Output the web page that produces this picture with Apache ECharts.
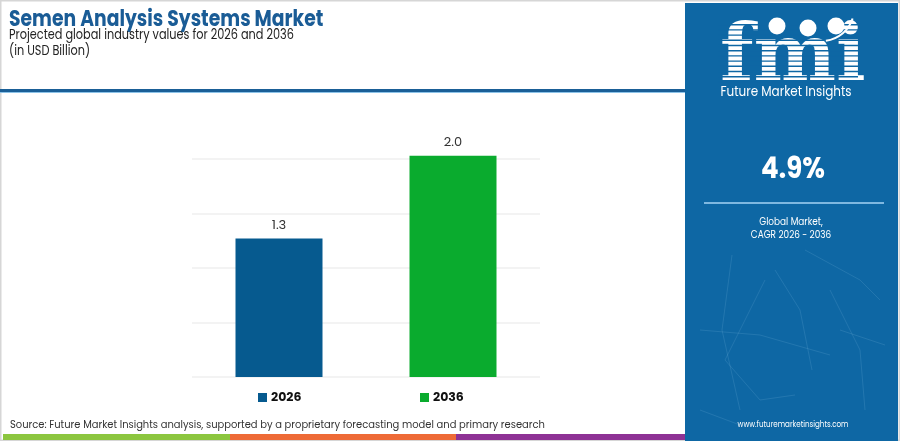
<!DOCTYPE html>
<html><head><meta charset="utf-8">
<script src="https://cdn.jsdelivr.net/npm/echarts@6/dist/echarts.min.js"></script>
<style>html,body{margin:0;padding:0;background:#fff}#c{width:900px;height:441px}</style>
</head><body><div id="c"></div>
<script>
const categories = ['2026', '2036'];
const values = [1.27, 2.03];
const valueLabels = ['1.3', '2.0'];
const barColors = ['#065a8f', '#0aab2e'];
const yTicks = [0, 0.5, 1.0, 1.5, 2.0];
const cagrText = '4.9%';

const FONT = "Poppins, 'Open Sans', Lato, sans-serif";
const panel = '#0e67a4';

const chart = echarts.init(document.getElementById('c'), null, {renderer: 'canvas'});

const series = categories.map((c, i) => ({
  name: c,
  type: 'bar',
  stack: 'all',
  barWidth: 87,
  clip: false,
  itemStyle: {color: barColors[i]},
  label: {
    show: true, position: 'top', distance: 6,
    color: '#333', fontSize: 13, fontFamily: FONT,
    formatter: () => valueLabels[i]
  },
  data: categories.map((_, j) => (j === i ? values[i] : null))
}));

// decorative network lines in the side panel
const net = [
  [[732,255],[722,330],[740,410]],[[775,270],[800,310],[812,370]],[[805,250],[860,280],[880,300]],
  [[700,330],[760,335],[830,355]],[[725,360],[760,400],[795,395]],[[830,290],[860,350],[865,410]],
  [[765,280],[725,360]],[[840,330],[885,345]],[[700,410],[740,425]]
];
const netGraphics = net.map(p => ({
  type: 'polyline', shape: {points: p}, silent: true,
  style: {stroke: 'rgba(160,210,240,0.14)', lineWidth: 1, fill: null}
}));

// fmi logo stripes
const stripes = [];
for (let y = 24; y < 86; y += 5.2) {
  stripes.push({type: 'rect', shape: {x: 718, y: y, width: 140, height: 1.4}, style: {fill: panel}});
}

function txt(x, y, text, font, fill, sx, align) {
  return {type: 'text', x: x, y: y, scaleX: sx, originX: 0, originY: 0,
    style: {text: text, fill: fill, font: font, textAlign: align || 'left', textVerticalAlign: 'middle'}};
}

chart.setOption({
  animation: false,
  grid: {left: 192, right: 360, top: 159, bottom: 64},
  xAxis: {
    type: 'category', data: categories,
    axisLine: {show: false}, axisTick: {show: false}, axisLabel: {show: false}
  },
  yAxis: {
    type: 'value', min: yTicks[0], max: yTicks[yTicks.length - 1], interval: yTicks[1] - yTicks[0],
    axisLabel: {show: false}, axisLine: {show: false}, axisTick: {show: false},
    splitLine: {lineStyle: {color: '#efefef', width: 1.5}}
  },
  legend: [
    {data: ['2026'], left: 258, top: 391, padding: 0, itemWidth: 9, itemHeight: 9, icon: 'rect', itemGap: 4,
     textStyle: {fontFamily: FONT, fontWeight: 'bold', fontSize: 12.5, color: '#111', padding: [0,0,0,-1]}},
    {data: ['2036'], left: 420, top: 391, padding: 0, itemWidth: 9, itemHeight: 9, icon: 'rect', itemGap: 4,
     textStyle: {fontFamily: FONT, fontWeight: 'bold', fontSize: 12.5, color: '#111', padding: [0,0,0,-1]}}
  ],
  series: series,
  graphic: [
    {type: 'rect', shape: {x: 0.5, y: 0.5, width: 899, height: 440}, style: {fill: null, stroke: '#d6d6d6', lineWidth: 2}, silent: true},
    {type: 'rect', shape: {x: 0, y: 89, width: 685, height: 3}, style: {fill: '#1a5f97'}},
    {type: 'rect', shape: {x: 0, y: 92, width: 685, height: 1}, style: {fill: '#8cc3e8'}},
    txt(9, 20, 'Semen Analysis Systems Market', "bold 22px " + FONT, '#1a5c96', 0.853),
    txt(9, 35, 'Projected global industry values for 2026 and 2036', "14px " + FONT, '#222', 0.807),
    txt(9, 51, '(in USD Billion)', "14px " + FONT, '#222', 0.807),
    txt(10, 425, 'Source: Future Market Insights analysis, supported by a proprietary forecasting model and primary research', "11px " + FONT, '#333', 0.904),
    {type: 'rect', shape: {x: 3, y: 434, width: 227, height: 6}, style: {fill: '#8cc63f'}},
    {type: 'rect', shape: {x: 230, y: 434, width: 226, height: 6}, style: {fill: '#ee6a36'}},
    {type: 'rect', shape: {x: 456, y: 434, width: 230, height: 6}, style: {fill: '#8e3295'}},
    {type: 'rect', shape: {x: 685, y: 3, width: 213, height: 438}, style: {fill: panel}},
    ...netGraphics,
    {type: 'text', left: 720, top: 21, style: {text: 'fmi', fill: '#fff', font: "bold 78px 'DejaVu Serif', serif"}},
    ...stripes,
    {type: 'circle', shape: {cx: 777, cy: 26, r: 8.5}, style: {fill: '#fff'}},
    {type: 'circle', shape: {cx: 808, cy: 28, r: 8.5}, style: {fill: '#fff'}},
    {type: 'circle', shape: {cx: 836, cy: 26, r: 8.5}, style: {fill: '#fff'}},
    {type: 'arc', shape: {cx: 822, cy: 9, r: 32, startAngle: 0.3, endAngle: 1.45}, style: {stroke: '#fff', lineWidth: 2, fill: null}},
    txt(786, 92, 'Future Market Insights', "14px " + FONT, '#fff', 0.856, 'center'),
    txt(793, 171, cagrText, "bold 29px " + FONT, '#fff', 0.9, 'center'),
    {type: 'rect', shape: {x: 704, y: 202, width: 180, height: 2}, style: {fill: '#7fb8e0'}},
    txt(791, 222, 'Global Market,', "11px " + FONT, '#fff', 0.81, 'center'),
    txt(791, 235, 'CAGR 2026 - 2036', "11px " + FONT, '#fff', 0.81, 'center'),
    txt(793, 425, 'www.futuremarketinsights.com', "9.5px " + FONT, '#fff', 0.75, 'center')
  ]
});
</script></body></html>
